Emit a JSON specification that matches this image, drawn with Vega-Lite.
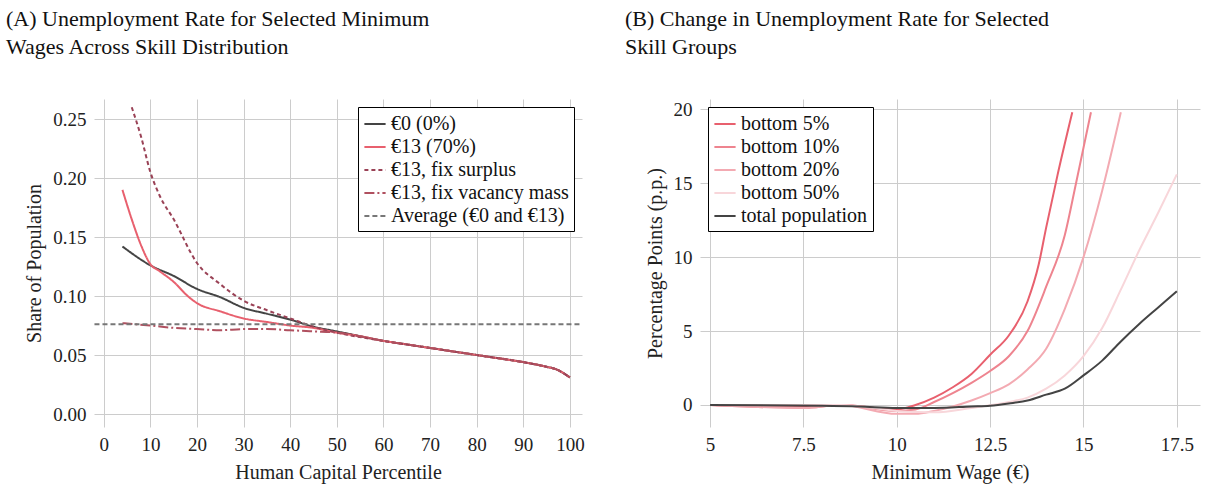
{
  "$schema": "https://vega.github.io/schema/vega-lite/v6.json",
  "background": "white",
  "padding": {"left": 6, "top": 8, "right": 5, "bottom": 5},
  "config": {
    "font": "Liberation Serif",
    "view": {"stroke": null},
    "axis": {"labelFont": "Liberation Serif", "titleFont": "Liberation Serif", "labelFontSize": 19, "titleFontSize": 20, "titleFontWeight": "normal", "labelColor": "#222", "titleColor": "#222", "gridColor": "#cccccc", "domain": false, "ticks": false, "labelPadding": 8, "titlePadding": 8},
    "legend": {"labelFont": "Liberation Serif", "labelFontSize": 20, "labelColor": "#111", "strokeColor": "black", "fillColor": "white", "padding": 5, "symbolType": "stroke", "symbolSize": 450, "symbolStrokeWidth": 2, "rowPadding": 1, "labelLimit": 400},
    "title": {"font": "Liberation Serif", "fontSize": 22, "fontWeight": "normal", "anchor": "start", "color": "#111", "lineHeight": 28, "offset": 40}
  },
  "spacing": 40,
  "resolve": {"scale": {"color": "independent", "strokeDash": "independent"}, "legend": {"color": "independent"}},
  "hconcat": [
    {
      "title": {"text": ["(A) Unemployment Rate for Selected Minimum", "     Wages Across Skill Distribution"], "frame": "group", "dx": -88},
      "width": 488,
      "height": 328,
      "data": {"values": [
        {"s": "€0 (0%)", "x": 4, "y": 0.142}, {"s": "€0 (0%)", "x": 10, "y": 0.126}, {"s": "€0 (0%)", "x": 15, "y": 0.117}, {"s": "€0 (0%)", "x": 20, "y": 0.106}, {"s": "€0 (0%)", "x": 25, "y": 0.099}, {"s": "€0 (0%)", "x": 30, "y": 0.090}, {"s": "€0 (0%)", "x": 35, "y": 0.085}, {"s": "€0 (0%)", "x": 40, "y": 0.080}, {"s": "€0 (0%)", "x": 45, "y": 0.074}, {"s": "€0 (0%)", "x": 50, "y": 0.070}, {"s": "€0 (0%)", "x": 55, "y": 0.066}, {"s": "€0 (0%)", "x": 60, "y": 0.062}, {"s": "€0 (0%)", "x": 65, "y": 0.059}, {"s": "€0 (0%)", "x": 70, "y": 0.056}, {"s": "€0 (0%)", "x": 75, "y": 0.053}, {"s": "€0 (0%)", "x": 80, "y": 0.050}, {"s": "€0 (0%)", "x": 85, "y": 0.047}, {"s": "€0 (0%)", "x": 90, "y": 0.044}, {"s": "€0 (0%)", "x": 95, "y": 0.040}, {"s": "€0 (0%)", "x": 97, "y": 0.038}, {"s": "€0 (0%)", "x": 100, "y": 0.031},
        {"s": "€13 (70%)", "x": 4, "y": 0.190}, {"s": "€13 (70%)", "x": 6, "y": 0.165}, {"s": "€13 (70%)", "x": 8, "y": 0.143}, {"s": "€13 (70%)", "x": 10, "y": 0.127}, {"s": "€13 (70%)", "x": 12, "y": 0.121}, {"s": "€13 (70%)", "x": 15, "y": 0.112}, {"s": "€13 (70%)", "x": 18, "y": 0.100}, {"s": "€13 (70%)", "x": 20, "y": 0.094}, {"s": "€13 (70%)", "x": 25, "y": 0.087}, {"s": "€13 (70%)", "x": 30, "y": 0.081}, {"s": "€13 (70%)", "x": 35, "y": 0.078}, {"s": "€13 (70%)", "x": 40, "y": 0.075}, {"s": "€13 (70%)", "x": 45, "y": 0.073}, {"s": "€13 (70%)", "x": 50, "y": 0.069}, {"s": "€13 (70%)", "x": 55, "y": 0.066}, {"s": "€13 (70%)", "x": 60, "y": 0.062}, {"s": "€13 (70%)", "x": 65, "y": 0.059}, {"s": "€13 (70%)", "x": 70, "y": 0.056}, {"s": "€13 (70%)", "x": 75, "y": 0.053}, {"s": "€13 (70%)", "x": 80, "y": 0.050}, {"s": "€13 (70%)", "x": 85, "y": 0.047}, {"s": "€13 (70%)", "x": 90, "y": 0.044}, {"s": "€13 (70%)", "x": 95, "y": 0.040}, {"s": "€13 (70%)", "x": 97, "y": 0.038}, {"s": "€13 (70%)", "x": 100, "y": 0.031},
        {"s": "€13, fix surplus", "x": 6, "y": 0.260}, {"s": "€13, fix surplus", "x": 8, "y": 0.235}, {"s": "€13, fix surplus", "x": 10, "y": 0.205}, {"s": "€13, fix surplus", "x": 12, "y": 0.185}, {"s": "€13, fix surplus", "x": 15, "y": 0.165}, {"s": "€13, fix surplus", "x": 20, "y": 0.128}, {"s": "€13, fix surplus", "x": 25, "y": 0.110}, {"s": "€13, fix surplus", "x": 30, "y": 0.096}, {"s": "€13, fix surplus", "x": 35, "y": 0.088}, {"s": "€13, fix surplus", "x": 40, "y": 0.081}, {"s": "€13, fix surplus", "x": 45, "y": 0.074}, {"s": "€13, fix surplus", "x": 50, "y": 0.069}, {"s": "€13, fix surplus", "x": 60, "y": 0.062}, {"s": "€13, fix surplus", "x": 70, "y": 0.056}, {"s": "€13, fix surplus", "x": 80, "y": 0.050}, {"s": "€13, fix surplus", "x": 90, "y": 0.044}, {"s": "€13, fix surplus", "x": 95, "y": 0.040}, {"s": "€13, fix surplus", "x": 97, "y": 0.038}, {"s": "€13, fix surplus", "x": 100, "y": 0.031},
        {"s": "€13, fix vacancy mass", "x": 4, "y": 0.077}, {"s": "€13, fix vacancy mass", "x": 10, "y": 0.075}, {"s": "€13, fix vacancy mass", "x": 15, "y": 0.073}, {"s": "€13, fix vacancy mass", "x": 20, "y": 0.072}, {"s": "€13, fix vacancy mass", "x": 25, "y": 0.071}, {"s": "€13, fix vacancy mass", "x": 30, "y": 0.072}, {"s": "€13, fix vacancy mass", "x": 35, "y": 0.072}, {"s": "€13, fix vacancy mass", "x": 40, "y": 0.071}, {"s": "€13, fix vacancy mass", "x": 45, "y": 0.070}, {"s": "€13, fix vacancy mass", "x": 50, "y": 0.069}, {"s": "€13, fix vacancy mass", "x": 60, "y": 0.062}, {"s": "€13, fix vacancy mass", "x": 70, "y": 0.056}, {"s": "€13, fix vacancy mass", "x": 80, "y": 0.050}, {"s": "€13, fix vacancy mass", "x": 90, "y": 0.044}, {"s": "€13, fix vacancy mass", "x": 95, "y": 0.040}, {"s": "€13, fix vacancy mass", "x": 97, "y": 0.038}, {"s": "€13, fix vacancy mass", "x": 100, "y": 0.031},
        {"s": "Average (€0 and €13)", "x": -2, "y": 0.076}, {"s": "Average (€0 and €13)", "x": 102.6, "y": 0.076}
      ]},
      "mark": {"type": "line", "strokeWidth": 2, "interpolate": "monotone", "clip": true},
      "encoding": {
        "x": {"field": "x", "type": "quantitative", "title": "Human Capital Percentile", "scale": {"domain": [-2.1, 102.6], "nice": false, "zero": false}, "axis": {"values": [0, 10, 20, 30, 40, 50, 60, 70, 80, 90, 100]}},
        "y": {"field": "y", "type": "quantitative", "title": "Share of Population", "scale": {"domain": [-0.011, 0.267], "nice": false}, "axis": {"values": [0, 0.05, 0.1, 0.15, 0.2, 0.25], "format": ".2f"}},
        "color": {"field": "s", "type": "nominal", "sort": null, "title": null,
          "scale": {"domain": ["€0 (0%)", "€13 (70%)", "€13, fix surplus", "€13, fix vacancy mass", "Average (€0 and €13)"], "range": ["#444444", "#e8606e", "#9a4256", "#b0505f", "#777777"]},
          "legend": {"orient": "top-right", "offset": 8}},
        "strokeDash": {"field": "s", "type": "nominal", "sort": null, "legend": null,
          "scale": {"domain": ["€0 (0%)", "€13 (70%)", "€13, fix surplus", "€13, fix vacancy mass", "Average (€0 and €13)"], "range": [[1, 0], [1, 0], [4, 3], [10, 3, 2, 3], [5, 3]]}},
        "strokeWidth": {"condition": {"test": "datum.s == 'Average (€0 and €13)' || datum.s == '€13, fix surplus'", "value": 1.3}, "value": 2}
      }
    },
    {
      "title": {"text": ["(B) Change in Unemployment Rate for Selected", "     Skill Groups"], "frame": "group", "dx": -75},
      "width": 500,
      "height": 328,
      "data": {"values": [
        {"s": "bottom 5%", "x": 5, "y": 0}, {"s": "bottom 5%", "x": 7.5, "y": -0.1}, {"s": "bottom 5%", "x": 8.5, "y": 0}, {"s": "bottom 5%", "x": 10, "y": -0.3}, {"s": "bottom 5%", "x": 10.5, "y": 0}, {"s": "bottom 5%", "x": 11, "y": 0.5}, {"s": "bottom 5%", "x": 11.5, "y": 1.2}, {"s": "bottom 5%", "x": 12, "y": 2.1}, {"s": "bottom 5%", "x": 12.5, "y": 3.4}, {"s": "bottom 5%", "x": 13, "y": 4.7}, {"s": "bottom 5%", "x": 13.5, "y": 7}, {"s": "bottom 5%", "x": 13.8, "y": 9.5}, {"s": "bottom 5%", "x": 14, "y": 12}, {"s": "bottom 5%", "x": 14.3, "y": 15.5}, {"s": "bottom 5%", "x": 14.7, "y": 19.8},
        {"s": "bottom 10%", "x": 5, "y": 0}, {"s": "bottom 10%", "x": 7.5, "y": -0.2}, {"s": "bottom 10%", "x": 8.5, "y": 0}, {"s": "bottom 10%", "x": 10, "y": -0.4}, {"s": "bottom 10%", "x": 10.5, "y": -0.3}, {"s": "bottom 10%", "x": 11, "y": 0.2}, {"s": "bottom 10%", "x": 11.5, "y": 0.8}, {"s": "bottom 10%", "x": 12, "y": 1.5}, {"s": "bottom 10%", "x": 12.5, "y": 2.3}, {"s": "bottom 10%", "x": 13, "y": 3.3}, {"s": "bottom 10%", "x": 13.5, "y": 5}, {"s": "bottom 10%", "x": 14, "y": 8}, {"s": "bottom 10%", "x": 14.5, "y": 11.5}, {"s": "bottom 10%", "x": 14.8, "y": 15}, {"s": "bottom 10%", "x": 15.2, "y": 19.8},
        {"s": "bottom 20%", "x": 5, "y": 0}, {"s": "bottom 20%", "x": 7.5, "y": -0.2}, {"s": "bottom 20%", "x": 8.5, "y": 0}, {"s": "bottom 20%", "x": 10, "y": -0.6}, {"s": "bottom 20%", "x": 10.5, "y": -0.6}, {"s": "bottom 20%", "x": 11, "y": -0.4}, {"s": "bottom 20%", "x": 11.5, "y": -0.1}, {"s": "bottom 20%", "x": 12, "y": 0.3}, {"s": "bottom 20%", "x": 12.5, "y": 0.8}, {"s": "bottom 20%", "x": 13, "y": 1.4}, {"s": "bottom 20%", "x": 13.5, "y": 2.4}, {"s": "bottom 20%", "x": 14, "y": 3.8}, {"s": "bottom 20%", "x": 14.5, "y": 6.5}, {"s": "bottom 20%", "x": 15, "y": 10}, {"s": "bottom 20%", "x": 15.5, "y": 14.5}, {"s": "bottom 20%", "x": 16, "y": 19.8},
        {"s": "bottom 50%", "x": 5, "y": 0}, {"s": "bottom 50%", "x": 8.5, "y": 0}, {"s": "bottom 50%", "x": 10, "y": -0.4}, {"s": "bottom 50%", "x": 11, "y": -0.5}, {"s": "bottom 50%", "x": 12, "y": -0.2}, {"s": "bottom 50%", "x": 13, "y": 0.2}, {"s": "bottom 50%", "x": 13.5, "y": 0.5}, {"s": "bottom 50%", "x": 14, "y": 1.1}, {"s": "bottom 50%", "x": 14.5, "y": 2}, {"s": "bottom 50%", "x": 15, "y": 3.3}, {"s": "bottom 50%", "x": 15.5, "y": 5.2}, {"s": "bottom 50%", "x": 16, "y": 7.8}, {"s": "bottom 50%", "x": 16.5, "y": 10.5}, {"s": "bottom 50%", "x": 17, "y": 13}, {"s": "bottom 50%", "x": 17.5, "y": 15.6},
        {"s": "total population", "x": 5, "y": 0}, {"s": "total population", "x": 8, "y": -0.05}, {"s": "total population", "x": 9, "y": -0.1}, {"s": "total population", "x": 10, "y": -0.2}, {"s": "total population", "x": 11, "y": -0.2}, {"s": "total population", "x": 12, "y": -0.1}, {"s": "total population", "x": 12.5, "y": -0.05}, {"s": "total population", "x": 13, "y": 0.1}, {"s": "total population", "x": 13.5, "y": 0.3}, {"s": "total population", "x": 14, "y": 0.7}, {"s": "total population", "x": 14.5, "y": 1.1}, {"s": "total population", "x": 15, "y": 2}, {"s": "total population", "x": 15.5, "y": 3}, {"s": "total population", "x": 16, "y": 4.3}, {"s": "total population", "x": 16.5, "y": 5.5}, {"s": "total population", "x": 17, "y": 6.6}, {"s": "total population", "x": 17.5, "y": 7.7}
      ]},
      "mark": {"type": "line", "strokeWidth": 2, "interpolate": "monotone"},
      "encoding": {
        "x": {"field": "x", "type": "quantitative", "title": "Minimum Wage (€)", "scale": {"domain": [4.73, 18.12], "nice": false, "zero": false}, "axis": {"values": [5, 7.5, 10, 12.5, 15, 17.5], "format": ".1~f"}},
        "y": {"field": "y", "type": "quantitative", "title": "Percentage Points (p.p.)", "scale": {"domain": [-1.49, 20.7], "nice": false}, "axis": {"values": [0, 5, 10, 15, 20]}},
        "color": {"field": "s", "type": "nominal", "sort": null, "title": null,
          "scale": {"domain": ["bottom 5%", "bottom 10%", "bottom 20%", "bottom 50%", "total population"], "range": ["#e8606e", "#ee848f", "#f3aab2", "#f8d6da", "#444444"]},
          "legend": {"orient": "top-left", "offset": 8}}
      }
    }
  ]
}
